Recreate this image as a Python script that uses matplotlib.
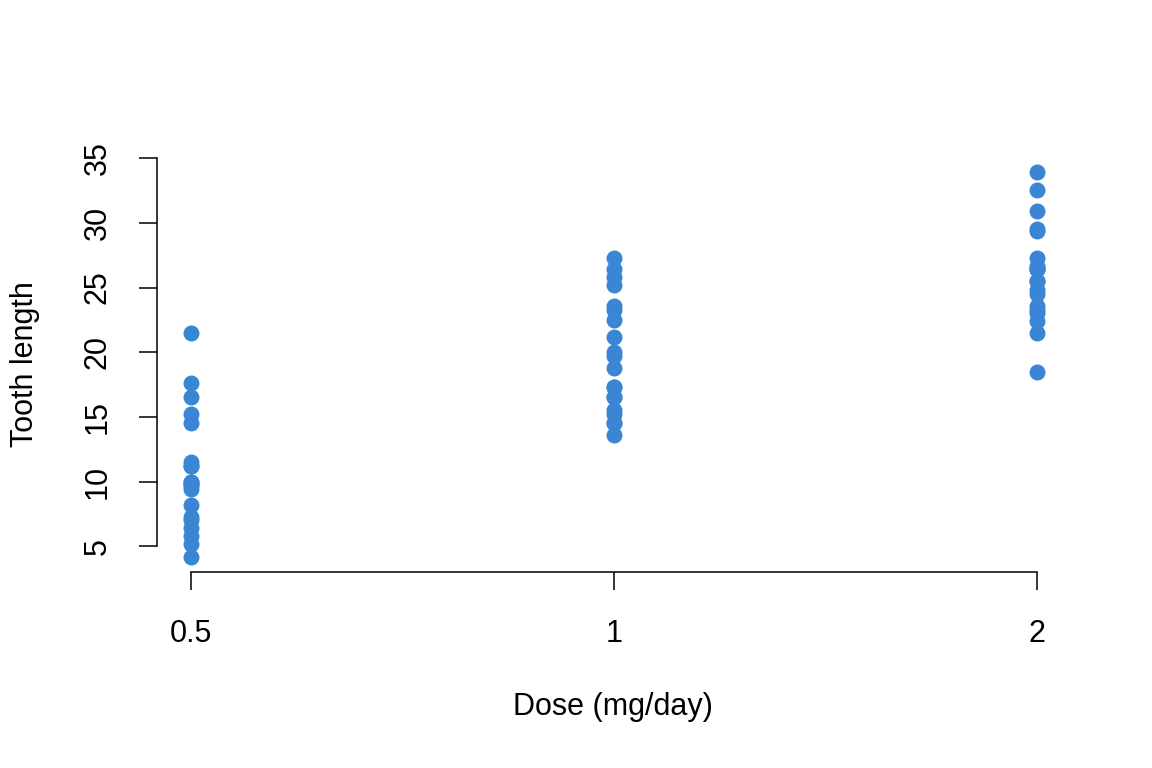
import numpy as np
import matplotlib
matplotlib.use("Agg")
import matplotlib.pyplot as plt

plt.rcParams['font.family'] = ['Liberation Sans', 'DejaVu Sans']

# ToothGrowth: tooth length by dose group
doses = ['0.5', '1', '2']
len_05 = [4.2, 11.5, 7.3, 5.8, 6.4, 10.0, 11.2, 11.2, 5.2, 7.0,
          15.2, 21.5, 17.6, 9.7, 14.5, 10.0, 8.2, 9.4, 16.5, 9.7]
len_1 = [16.5, 16.5, 15.2, 17.3, 22.5, 17.3, 13.6, 14.5, 18.8, 15.5,
         19.7, 23.3, 23.6, 26.4, 20.0, 25.2, 25.8, 21.2, 14.5, 27.3]
len_2 = [23.6, 18.5, 33.9, 25.5, 26.4, 32.5, 26.7, 21.5, 23.3, 29.5,
         25.5, 26.4, 22.4, 24.5, 24.8, 30.9, 26.4, 27.3, 29.4, 23.0]
yticks = [5, 10, 15, 20, 25, 30, 35]

W, H = 1152, 768
fig = plt.figure(figsize=(W / 100, H / 100), dpi=100)
ax = fig.add_axes([157 / W, 1 - 572 / H, (1071 - 157) / W, (572 - 157) / H])

color = '#3b86d4'
for i, vals in enumerate([len_05, len_1, len_2]):
    ax.plot(np.full(len(vals), i), vals, 'o', ms=11.5, color=color, mec='none')

allv = len_05 + len_1 + len_2
lo, hi = min(allv), max(allv)
pad = (hi - lo) * 0.04
ax.set_ylim(lo - pad, hi + pad)
ax.set_xlim(-0.08, 2.08)

ax.set_xticks(range(len(doses)))
ax.set_xticklabels(doses)
ax.set_yticks(yticks)
ax.set_yticklabels([str(t) for t in yticks], rotation=90, va='center')

for s in ['top', 'right']:
    ax.spines[s].set_visible(False)
ax.spines['left'].set_bounds(yticks[0], yticks[-1])
ax.spines['bottom'].set_bounds(0, len(doses) - 1)
for s in ['left', 'bottom']:
    ax.spines[s].set_linewidth(1.1)

ax.tick_params(length=13, width=1.1, labelsize=22)
ax.tick_params(axis='x', pad=21)
ax.tick_params(axis='y', pad=19)

fig.text(613 / W, 1 - 707 / H, 'Dose (mg/day)', ha='center', va='center', fontsize=22)
fig.text(25 / W, 1 - 364 / H, 'Tooth length', ha='center', va='center',
         rotation=90, fontsize=22)

fig.savefig('out.png', dpi=100)
